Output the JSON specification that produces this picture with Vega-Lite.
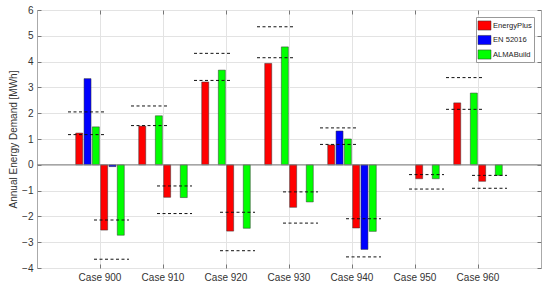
{
  "$schema": "https://vega.github.io/schema/vega-lite/v6.json",
  "width": 504,
  "height": 258,
  "autosize": {"type": "none"},
  "padding": {"left": 37, "top": 10, "right": 9, "bottom": 23},
  "background": "white",
  "config": {
    "font": "Liberation Sans",
    "view": {"stroke": "#aaaaaa", "strokeWidth": 1},
    "axis": {"labelColor": "#333333", "titleColor": "#333333", "domain": false, "gridColor": "#e3e3e3", "tickColor": "#777777"},
    "legend": {"labelColor": "#222222"}
  },
  "datasets": {
    "bars": [
      {"case": "Case 900", "load": "Heating", "series": "EnergyPlus", "value": 1.23},
      {"case": "Case 900", "load": "Heating", "series": "EN 52016", "value": 3.34},
      {"case": "Case 900", "load": "Heating", "series": "ALMABuild", "value": 1.47},
      {"case": "Case 900", "load": "Cooling", "series": "EnergyPlus", "value": -2.53},
      {"case": "Case 900", "load": "Cooling", "series": "EN 52016", "value": -0.07},
      {"case": "Case 900", "load": "Cooling", "series": "ALMABuild", "value": -2.73},
      {"case": "Case 910", "load": "Heating", "series": "EnergyPlus", "value": 1.50},
      {"case": "Case 910", "load": "Heating", "series": "ALMABuild", "value": 1.90},
      {"case": "Case 910", "load": "Cooling", "series": "EnergyPlus", "value": -1.26},
      {"case": "Case 910", "load": "Cooling", "series": "ALMABuild", "value": -1.27},
      {"case": "Case 920", "load": "Heating", "series": "EnergyPlus", "value": 3.21},
      {"case": "Case 920", "load": "Heating", "series": "ALMABuild", "value": 3.67},
      {"case": "Case 920", "load": "Cooling", "series": "EnergyPlus", "value": -2.57},
      {"case": "Case 920", "load": "Cooling", "series": "ALMABuild", "value": -2.46},
      {"case": "Case 930", "load": "Heating", "series": "EnergyPlus", "value": 3.93},
      {"case": "Case 930", "load": "Heating", "series": "ALMABuild", "value": 4.57},
      {"case": "Case 930", "load": "Cooling", "series": "EnergyPlus", "value": -1.65},
      {"case": "Case 930", "load": "Cooling", "series": "ALMABuild", "value": -1.44},
      {"case": "Case 940", "load": "Heating", "series": "EnergyPlus", "value": 0.77},
      {"case": "Case 940", "load": "Heating", "series": "EN 52016", "value": 1.31},
      {"case": "Case 940", "load": "Heating", "series": "ALMABuild", "value": 1.00},
      {"case": "Case 940", "load": "Cooling", "series": "EnergyPlus", "value": -2.45},
      {"case": "Case 940", "load": "Cooling", "series": "EN 52016", "value": -3.28},
      {"case": "Case 940", "load": "Cooling", "series": "ALMABuild", "value": -2.58},
      {"case": "Case 950", "load": "Cooling", "series": "EnergyPlus", "value": -0.54},
      {"case": "Case 950", "load": "Cooling", "series": "ALMABuild", "value": -0.54},
      {"case": "Case 960", "load": "Heating", "series": "EnergyPlus", "value": 2.40},
      {"case": "Case 960", "load": "Heating", "series": "ALMABuild", "value": 2.78},
      {"case": "Case 960", "load": "Cooling", "series": "EnergyPlus", "value": -0.64},
      {"case": "Case 960", "load": "Cooling", "series": "ALMABuild", "value": -0.41}
    ],
    "ranges": [
      {"case": "Case 900", "load": "Heating", "bound": "max", "value": 2.05},
      {"case": "Case 900", "load": "Heating", "bound": "min", "value": 1.17},
      {"case": "Case 900", "load": "Cooling", "bound": "min", "value": -2.14},
      {"case": "Case 900", "load": "Cooling", "bound": "max", "value": -3.66},
      {"case": "Case 910", "load": "Heating", "bound": "max", "value": 2.28},
      {"case": "Case 910", "load": "Heating", "bound": "min", "value": 1.52},
      {"case": "Case 910", "load": "Cooling", "bound": "min", "value": -0.82},
      {"case": "Case 910", "load": "Cooling", "bound": "max", "value": -1.89},
      {"case": "Case 920", "load": "Heating", "bound": "max", "value": 4.32},
      {"case": "Case 920", "load": "Heating", "bound": "min", "value": 3.27},
      {"case": "Case 920", "load": "Cooling", "bound": "min", "value": -1.84},
      {"case": "Case 920", "load": "Cooling", "bound": "max", "value": -3.33},
      {"case": "Case 930", "load": "Heating", "bound": "max", "value": 5.35},
      {"case": "Case 930", "load": "Heating", "bound": "min", "value": 4.15},
      {"case": "Case 930", "load": "Cooling", "bound": "min", "value": -1.05},
      {"case": "Case 930", "load": "Cooling", "bound": "max", "value": -2.26},
      {"case": "Case 940", "load": "Heating", "bound": "max", "value": 1.43},
      {"case": "Case 940", "load": "Heating", "bound": "min", "value": 0.79},
      {"case": "Case 940", "load": "Cooling", "bound": "min", "value": -2.09},
      {"case": "Case 940", "load": "Cooling", "bound": "max", "value": -3.57},
      {"case": "Case 950", "load": "Cooling", "bound": "min", "value": -0.38},
      {"case": "Case 950", "load": "Cooling", "bound": "max", "value": -0.94},
      {"case": "Case 960", "load": "Heating", "bound": "max", "value": 3.38},
      {"case": "Case 960", "load": "Heating", "bound": "min", "value": 2.15},
      {"case": "Case 960", "load": "Cooling", "bound": "min", "value": -0.41},
      {"case": "Case 960", "load": "Cooling", "bound": "max", "value": -0.91}
    ]
  },
  "resolve": {"scale": {"xOffset": "independent"}, "axis": {"x": "independent", "y": "independent"}},
  "layer": [
    {
      "data": {"name": "bars"},
      "transform": [{"filter": "datum.load === 'Heating'"}],
      "mark": {"type": "bar", "stroke": "#333333", "strokeWidth": 0.5},
      "encoding": {
        "x": {"field": "case", "type": "nominal", "sort": null,
              "scale": {"domain": ["Case 900", "Case 910", "Case 920", "Case 930", "Case 940", "Case 950", "Case 960"], "paddingInner": 0, "paddingOuter": 0.5},
              "axis": {"title": null, "labelAngle": 0, "labelFontSize": 10, "labelPadding": 8, "tickSize": -4, "grid": true, "orient": "bottom"}},
        "xOffset": {"field": "series", "type": "nominal",
                    "scale": {"domain": ["EnergyPlus", "EN 52016", "ALMABuild", "c1", "c2", "c3"], "paddingInner": 0.157, "paddingOuter": 0.87}},
        "y": {"field": "value", "type": "quantitative",
              "scale": {"domain": [-4, 6], "nice": false, "zero": false},
              "axis": {"values": [-4, -3, -2, -1, 0, 1, 2, 3, 4, 5, 6], "title": "Annual Energy Demand [MWh]", "titleFontSize": 10, "titleFontWeight": "normal", "titlePadding": 3, "labelFontSize": 10, "labelPadding": 8, "tickSize": -4, "grid": true, "orient": "left"}},
        "color": {"field": "series", "type": "nominal",
                  "scale": {"domain": ["EnergyPlus", "EN 52016", "ALMABuild"], "range": ["#ff0000", "#0000ff", "#00ff00"]},
                  "legend": {"title": null, "orient": "top-right", "offset": 7, "labelFontSize": 7.6, "symbolType": "M-1,-0.7L1,-0.7L1,0.7L-1,0.7Z", "symbolSize": 169, "symbolStrokeColor": "#333333", "symbolStrokeWidth": 0.5, "strokeColor": "#999999", "fillColor": "white", "padding": 1.5, "rowPadding": 1.5, "labelOffset": 1.5}}
      }
    },
    {
      "data": {"name": "bars"},
      "transform": [{"filter": "datum.load === 'Cooling'"}],
      "mark": {"type": "bar", "stroke": "#333333", "strokeWidth": 0.5},
      "encoding": {
        "x": {"field": "case", "type": "nominal", "sort": null,
              "axis": {"title": null, "labels": false, "tickSize": -4, "grid": false, "orient": "top"}},
        "xOffset": {"field": "series", "type": "nominal",
                    "scale": {"domain": ["h1", "h2", "h3", "EnergyPlus", "EN 52016", "ALMABuild"], "paddingInner": 0.157, "paddingOuter": 0.87}},
        "y": {"field": "value", "type": "quantitative",
              "axis": {"values": [-4, -3, -2, -1, 0, 1, 2, 3, 4, 5, 6], "title": null, "labels": false, "tickSize": -4, "grid": false, "orient": "right"}},
        "color": {"field": "series", "type": "nominal"}
      }
    },
    {
      "data": {"values": [{"base": 0}]},
      "mark": {"type": "rule", "color": "#808080", "strokeWidth": 1},
      "encoding": {"y": {"field": "base", "type": "quantitative", "axis": null}}
    },
    {
      "data": {"name": "ranges"},
      "transform": [{"filter": "datum.load === 'Heating'"}],
      "mark": {"type": "rule", "color": "#111111", "strokeWidth": 1, "strokeDash": [3, 2.5], "xOffset": -32, "x2Offset": 4},
      "encoding": {
        "x": {"field": "case", "type": "nominal", "sort": null, "axis": null},
        "x2": {"field": "case"},
        "y": {"field": "value", "type": "quantitative", "axis": null}
      }
    },
    {
      "data": {"name": "ranges"},
      "transform": [{"filter": "datum.load === 'Cooling'"}],
      "mark": {"type": "rule", "color": "#111111", "strokeWidth": 1, "strokeDash": [3, 2.5], "xOffset": -6, "x2Offset": 29},
      "encoding": {
        "x": {"field": "case", "type": "nominal", "sort": null, "axis": null},
        "x2": {"field": "case"},
        "y": {"field": "value", "type": "quantitative", "axis": null}
      }
    }
  ]
}
